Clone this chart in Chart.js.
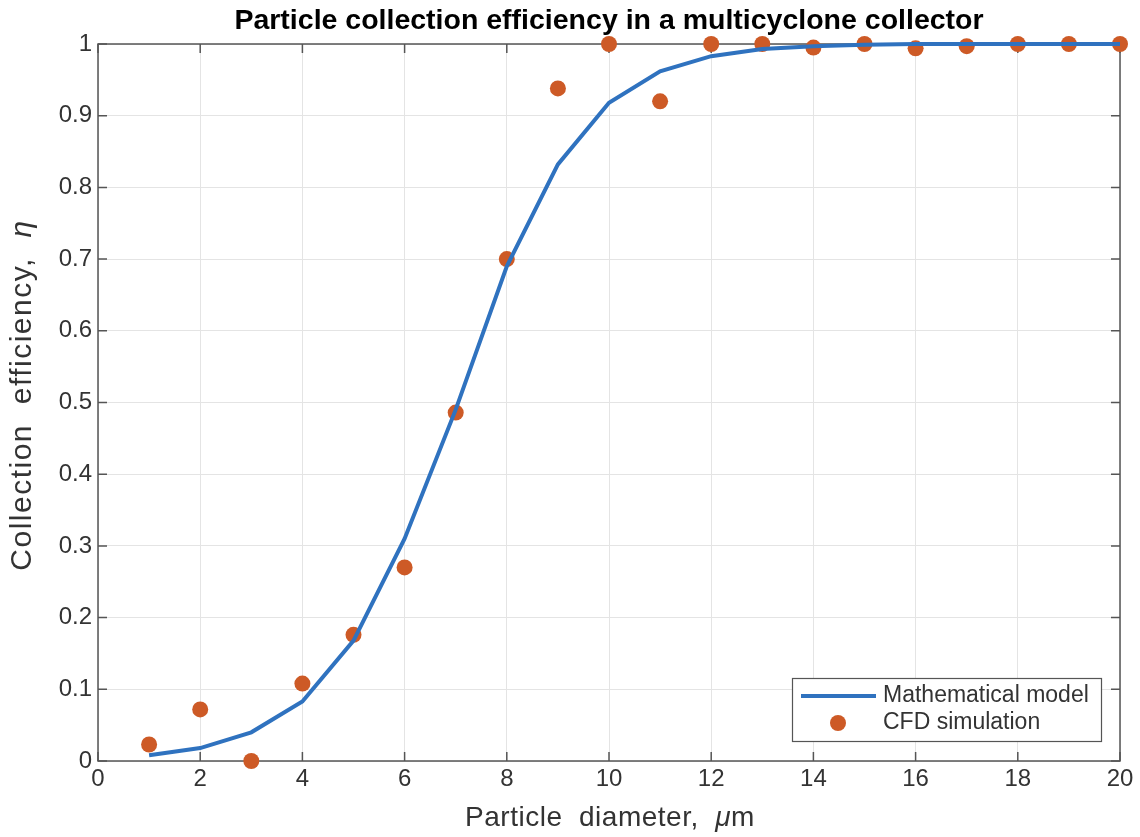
<!DOCTYPE html>
<html>
<head>
<meta charset="utf-8">
<script src="https://cdn.jsdelivr.net/npm/chart.js@4.4.1/dist/chart.umd.min.js"></script>
<style>
  html, body { margin: 0; padding: 0; background: #fff; }
  #wrap { width: 1140px; height: 837px; position: relative; }
</style>
</head>
<body>
<div id="wrap"><canvas id="chart"></canvas></div>
<script>
// particle diameter (um)
const diameters = [1, 2, 3, 4, 5, 6, 7, 8, 9, 10, 11, 12, 13, 14, 15, 16, 17, 18, 19, 20];
// mathematical model curve
const modelEff = [0.008, 0.018, 0.04, 0.083, 0.168, 0.31, 0.49, 0.69, 0.832, 0.918, 0.962, 0.983, 0.993, 0.997, 0.999, 1.0, 1.0, 1.0, 1.0, 1.0];
// CFD simulation points
const cfdEff = [0.023, 0.072, 0.0, 0.108, 0.176, 0.27, 0.486, 0.70, 0.938, 1.0, 0.92, 1.0, 1.0, 0.995, 1.0, 0.994, 0.997, 1.0, 1.0, 1.0];

const blue = '#2f72bf';
const orange = '#cd5a26';
const textCol = '#333333';
const axisCol = '#555555';
const fontFam = '"Liberation Sans", Arial, Helvetica, sans-serif';

// draws pieces of text side by side, some in italic
function mixedText(ctx, parts, size, cx, cy, spacing) {
  ctx.letterSpacing = (spacing || 0) + 'px';
  let total = 0;
  parts.forEach(p => {
    ctx.font = (p.it ? 'italic ' : '') + size + 'px ' + fontFam;
    p.w = ctx.measureText(p.t).width;
    total += p.w;
  });
  let x = cx - total / 2;
  ctx.textAlign = 'left';
  ctx.textBaseline = 'middle';
  parts.forEach(p => {
    ctx.font = (p.it ? 'italic ' : '') + size + 'px ' + fontFam;
    ctx.fillText(p.t, x, cy);
    x += p.w;
  });
  ctx.letterSpacing = '0px';
}

// box around plot + small inward ticks like matlab
const framePlugin = {
  id: 'frame',
  beforeDatasetsDraw(chart) {
    const { ctx, chartArea: a, scales } = chart;
    ctx.save();
    ctx.strokeStyle = axisCol;
    ctx.lineWidth = 1.5;
    ctx.strokeRect(a.left, a.top, a.right - a.left, a.bottom - a.top);
    const len = 9;
    ctx.beginPath();
    scales.x.ticks.forEach(t => {
      const px = scales.x.getPixelForValue(t.value);
      ctx.moveTo(px, a.bottom); ctx.lineTo(px, a.bottom - len);
      ctx.moveTo(px, a.top); ctx.lineTo(px, a.top + len);
    });
    scales.y.ticks.forEach(t => {
      const py = scales.y.getPixelForValue(t.value);
      ctx.moveTo(a.left, py); ctx.lineTo(a.left + len, py);
      ctx.moveTo(a.right, py); ctx.lineTo(a.right - len, py);
    });
    ctx.stroke();
    ctx.restore();
  },
  afterDraw(chart) {
    const { ctx, chartArea: a } = chart;
    ctx.save();
    ctx.fillStyle = '#000';
    ctx.textAlign = 'center';
    ctx.textBaseline = 'middle';
    ctx.font = 'bold 28.5px ' + fontFam;
    ctx.fillText('Particle collection efficiency in a multicyclone collector', (a.left + a.right) / 2, 21);
    ctx.fillStyle = textCol;
    mixedText(ctx, [{ t: 'Particle  diameter,  ' }, { t: 'μ', it: true }, { t: 'm' }], 28, 610, 818, 0.5);
    ctx.translate(23, 395);
    ctx.rotate(-Math.PI / 2);
    mixedText(ctx, [{ t: 'Collection  efficiency,  ' }, { t: 'η', it: true }], 30, 0, 0, 1.5);
    ctx.restore();
  }
};

// legend box in lower right corner, inside the axes
const legendBox = {
  id: 'legendBox',
  afterDraw(chart) {
    const { ctx } = chart;
    const x0 = 792, y0 = 678, w = 309, h = 63;
    ctx.save();
    ctx.fillStyle = '#fff';
    ctx.fillRect(x0, y0, w, h);
    ctx.strokeStyle = axisCol;
    ctx.lineWidth = 1.2;
    ctx.strokeRect(x0 + 0.5, y0 + 0.5, w, h);
    ctx.font = '23px ' + fontFam;
    ctx.fillStyle = textCol;
    ctx.textBaseline = 'middle';
    ctx.fillText(chart.data.datasets[0].label, x0 + 91, y0 + 18);
    ctx.fillText(chart.data.datasets[1].label, x0 + 91, y0 + 45);
    ctx.strokeStyle = blue;
    ctx.lineWidth = 4;
    ctx.beginPath();
    ctx.moveTo(x0 + 9, y0 + 18); ctx.lineTo(x0 + 84, y0 + 18);
    ctx.stroke();
    ctx.fillStyle = orange;
    ctx.beginPath();
    ctx.arc(x0 + 46, y0 + 45, 8, 0, Math.PI * 2);
    ctx.fill();
    ctx.restore();
  }
};

new Chart(document.getElementById('chart'), {
  type: 'line',
  data: {
    datasets: [
      {
        label: 'Mathematical model',
        data: diameters.map((d, i) => ({ x: d, y: modelEff[i] })),
        borderColor: blue,
        borderWidth: 4,
        pointRadius: 0,
        fill: false,
        tension: 0
      },
      {
        label: 'CFD simulation',
        data: diameters.map((d, i) => ({ x: d, y: cfdEff[i] })),
        showLine: false,
        backgroundColor: orange,
        borderColor: orange,
        pointRadius: 8,
        pointBorderWidth: 0
      }
    ]
  },
  options: {
    responsive: true,
    maintainAspectRatio: false,
    animation: false,
    clip: false,
    layout: { padding: { left: 0, right: 20, top: 44, bottom: 0 } },
    plugins: {
      legend: { display: false },
      tooltip: { enabled: false },
      title: { display: false }
    },
    scales: {
      x: {
        type: 'linear',
        min: 0, max: 20,
        ticks: { stepSize: 2, color: textCol, font: { family: fontFam, size: 24 }, padding: 4, maxRotation: 0 },
        grid: { color: '#e4e4e4', drawTicks: false },
        border: { display: false },
        afterFit(s) { s.height = 76; }
      },
      y: {
        min: 0, max: 1,
        ticks: {
          stepSize: 0.1, color: textCol, font: { family: fontFam, size: 24 }, padding: 6,
          callback: v => Math.round(v * 10) / 10
        },
        grid: { color: '#e4e4e4', drawTicks: false },
        border: { display: false },
        afterFit(s) { s.width = 98; }
      }
    }
  },
  plugins: [framePlugin, legendBox]
});
</script>
</body>
</html>
